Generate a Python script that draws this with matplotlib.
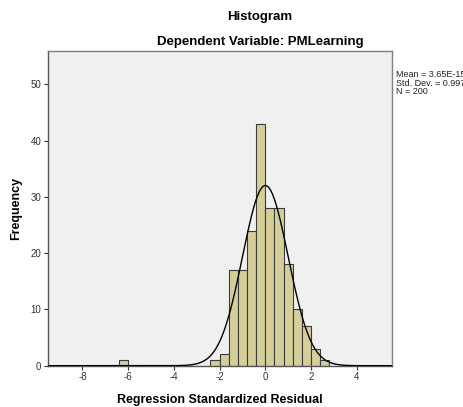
import numpy as np
import matplotlib
matplotlib.use("Agg")
import matplotlib.pyplot as plt

plt.rcParams["font.family"] = ["Liberation Sans", "DejaVu Sans"]
plt.rcParams["axes.unicode_minus"] = False

# Data
bin_left = [-6.4, -2.4, -2.0, -1.6, -1.2, -0.8, -0.4, 0.0, 0.4, 0.8, 1.2, 1.6, 2.0, 2.4]
counts = [1, 1, 2, 17, 17, 24, 43, 28, 28, 18, 10, 7, 3, 1]
bin_width = 0.4
mean_val = 3.65e-15
std_val = 0.997
n_val = 200
x_ticks = [-8, -6, -4, -2, 0, 2, 4]
y_ticks = [0, 10, 20, 30, 40, 50]

W, H = 464, 407
fig = plt.figure(figsize=(W / 100, H / 100), dpi=100)
fig.patch.set_facecolor("white")

left, right, top, bottom = 47.7, 392, 51, 365.7
ax = fig.add_axes([left / W, 1 - bottom / H, (right - left) / W, (bottom - top) / H])
ax.set_facecolor("#F0F0F0")

ax.bar(bin_left, counts, width=bin_width, align="edge",
       color="#D4CF98", edgecolor="#3a3a3a", linewidth=0.8, zorder=2)

xs = np.linspace(-9.5, 5.6, 600)
pdf = n_val * bin_width / (std_val * np.sqrt(2 * np.pi)) * np.exp(-0.5 * ((xs - mean_val) / std_val) ** 2)
ax.plot(xs, pdf, color="black", linewidth=1.0, zorder=3)

ax.set_xlim(-9.52, 5.54)
ax.set_ylim(0, 55.9)
ax.set_xticks(x_ticks)
ax.set_yticks(y_ticks)
ax.tick_params(axis="both", direction="out", length=3, width=0.8, color="#333333",
               labelsize=7, labelcolor="#333333", pad=1.5)
for s in ax.spines.values():
    s.set_color("#808080")
    s.set_linewidth(1.0)
ax.spines["left"].set_color("#555555")
ax.spines["bottom"].set_color("#555555")

ax.set_xlabel("Regression Standardized Residual", fontsize=9, fontweight="bold", labelpad=9)
ax.set_ylabel("Frequency", fontsize=9, fontweight="bold", labelpad=6)

fig.text(260 / W, 1 - 17 / H, "Histogram", ha="center", va="center", fontsize=9.5, fontweight="bold")
fig.text(260 / W, 1 - 42 / H, "Dependent Variable: PMLearning", ha="center", va="center",
         fontsize=9.5, fontweight="bold")

fig.text(396 / W, 1 - 70 / H, "Mean = 3.65E-15\nStd. Dev. = 0.997\nN = 200",
         ha="left", va="top", fontsize=6.5, linespacing=0.95, color="#222222")

fig.savefig("out.png", dpi=100)
